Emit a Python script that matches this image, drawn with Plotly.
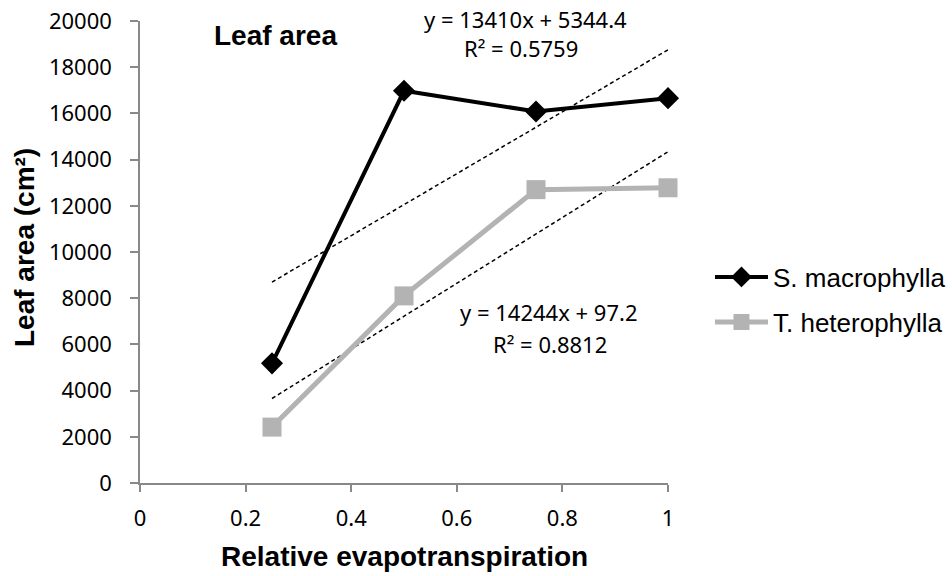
import plotly.graph_objects as go

# Relative evapotranspiration treatments
x_vals = [0.25, 0.5, 0.75, 1.0]

# Leaf area (cm²) per species
s_macrophylla = [5180, 16980, 16080, 16660]
t_heterophylla = [2420, 8100, 12700, 12780]

# Linear trend fits (slope, intercept, R²)
s_fit = (13410, 5344.4, 0.5759)
t_fit = (14244, 97.2, 0.8812)

x_ticks = [0, 0.2, 0.4, 0.6, 0.8, 1]
x_tick_text = ["0", "0.2", "0.4", "0.6", "0.8", "1"]
y_ticks = list(range(0, 20001, 2000))
y_tick_text = [str(v) for v in y_ticks]

GRAY = "#b3b3b3"
AXIS = "#898989"
TICK_FONT = dict(family="Noto Sans", size=22, color="#000000")
BOLD = "Liberation Sans"

fig = go.Figure()

# dashed trend lines over the data range
for slope, icpt, _ in (s_fit, t_fit):
    xs = [x_vals[0], x_vals[-1]]
    fig.add_trace(go.Scatter(
        x=xs, y=[slope * v + icpt for v in xs], mode="lines",
        line=dict(color="#000000", width=1.5, dash="4px,3px"),
        showlegend=False, hoverinfo="skip", cliponaxis=False))

fig.add_trace(go.Scatter(
    x=x_vals, y=t_heterophylla, mode="lines+markers", name="T. heterophylla",
    line=dict(color=GRAY, width=5),
    marker=dict(symbol="square", size=19, color=GRAY),
    legend="legend2", cliponaxis=False))

fig.add_trace(go.Scatter(
    x=x_vals, y=s_macrophylla, mode="lines+markers", name="S. macrophylla",
    line=dict(color="#000000", width=4),
    marker=dict(symbol="diamond", size=17, color="#000000"),
    legend="legend", cliponaxis=False))

legend_common = dict(
    font=dict(family=BOLD, size=26, color="#000000"),
    bgcolor="rgba(0,0,0,0)", itemwidth=53,
    xanchor="left", yanchor="middle", borderwidth=0)

fig.update_layout(
    width=952, height=576,
    margin=dict(l=140, r=284, t=21, b=93, autoexpand=False),
    paper_bgcolor="#ffffff", plot_bgcolor="#ffffff",
    legend=dict(x=1.0795, y=(483 - 277) / 462, **legend_common),
    legend2=dict(x=1.0795, y=(483 - 322) / 462, **legend_common),
    xaxis=dict(
        range=[0, 1], tickvals=x_ticks, ticktext=x_tick_text,
        showgrid=False, zeroline=False, showline=True,
        linecolor=AXIS, linewidth=1.5,
        ticks="outside", ticklen=7, tickwidth=1.5, tickcolor=AXIS,
        tickfont=TICK_FONT, ticklabelstandoff=8, automargin=False),
    yaxis=dict(
        range=[0, 20000], tickvals=y_ticks, ticktext=y_tick_text,
        showgrid=False, zeroline=False, showline=True,
        linecolor=AXIS, linewidth=1.5,
        ticks="outside", ticklen=8, tickwidth=1.5, tickcolor=AXIS,
        tickfont=TICK_FONT, ticklabelstandoff=14, automargin=False),
)

def px_x(p):
    return (p - 140) / 528

def px_y(p):
    return (483 - p) / 462

annotations = [
    dict(text="<b>Leaf area</b>", x=px_x(275), y=px_y(36),
         font=dict(family=BOLD, size=28)),
    dict(text="<b>Relative evapotranspiration</b>", x=px_x(404), y=px_y(556),
         font=dict(family=BOLD, size=28)),
    dict(text="<b>Leaf area (cm²)</b>", x=px_x(25), y=px_y(248), textangle=-90,
         font=dict(family=BOLD, size=28)),
    dict(text=f"y = {s_fit[0]}x + {s_fit[1]}", x=px_x(525), y=px_y(19),
         font=dict(family="Noto Sans", size=22)),
    dict(text=f"R² = {s_fit[2]}", x=px_x(521), y=px_y(48),
         font=dict(family="Noto Sans", size=22)),
    dict(text=f"y = {t_fit[0]}x + {t_fit[1]}", x=px_x(548), y=px_y(312),
         font=dict(family="Noto Sans", size=22)),
    dict(text=f"R² = {t_fit[2]}", x=px_x(550), y=px_y(344),
         font=dict(family="Noto Sans", size=22)),
]
for a in annotations:
    a.setdefault("font", {})
    a["font"].setdefault("color", "#000000")
    fig.add_annotation(xref="x domain", yref="y domain", showarrow=False,
                       xanchor="center", yanchor="middle", **a)

fig.write_html("out.html")
